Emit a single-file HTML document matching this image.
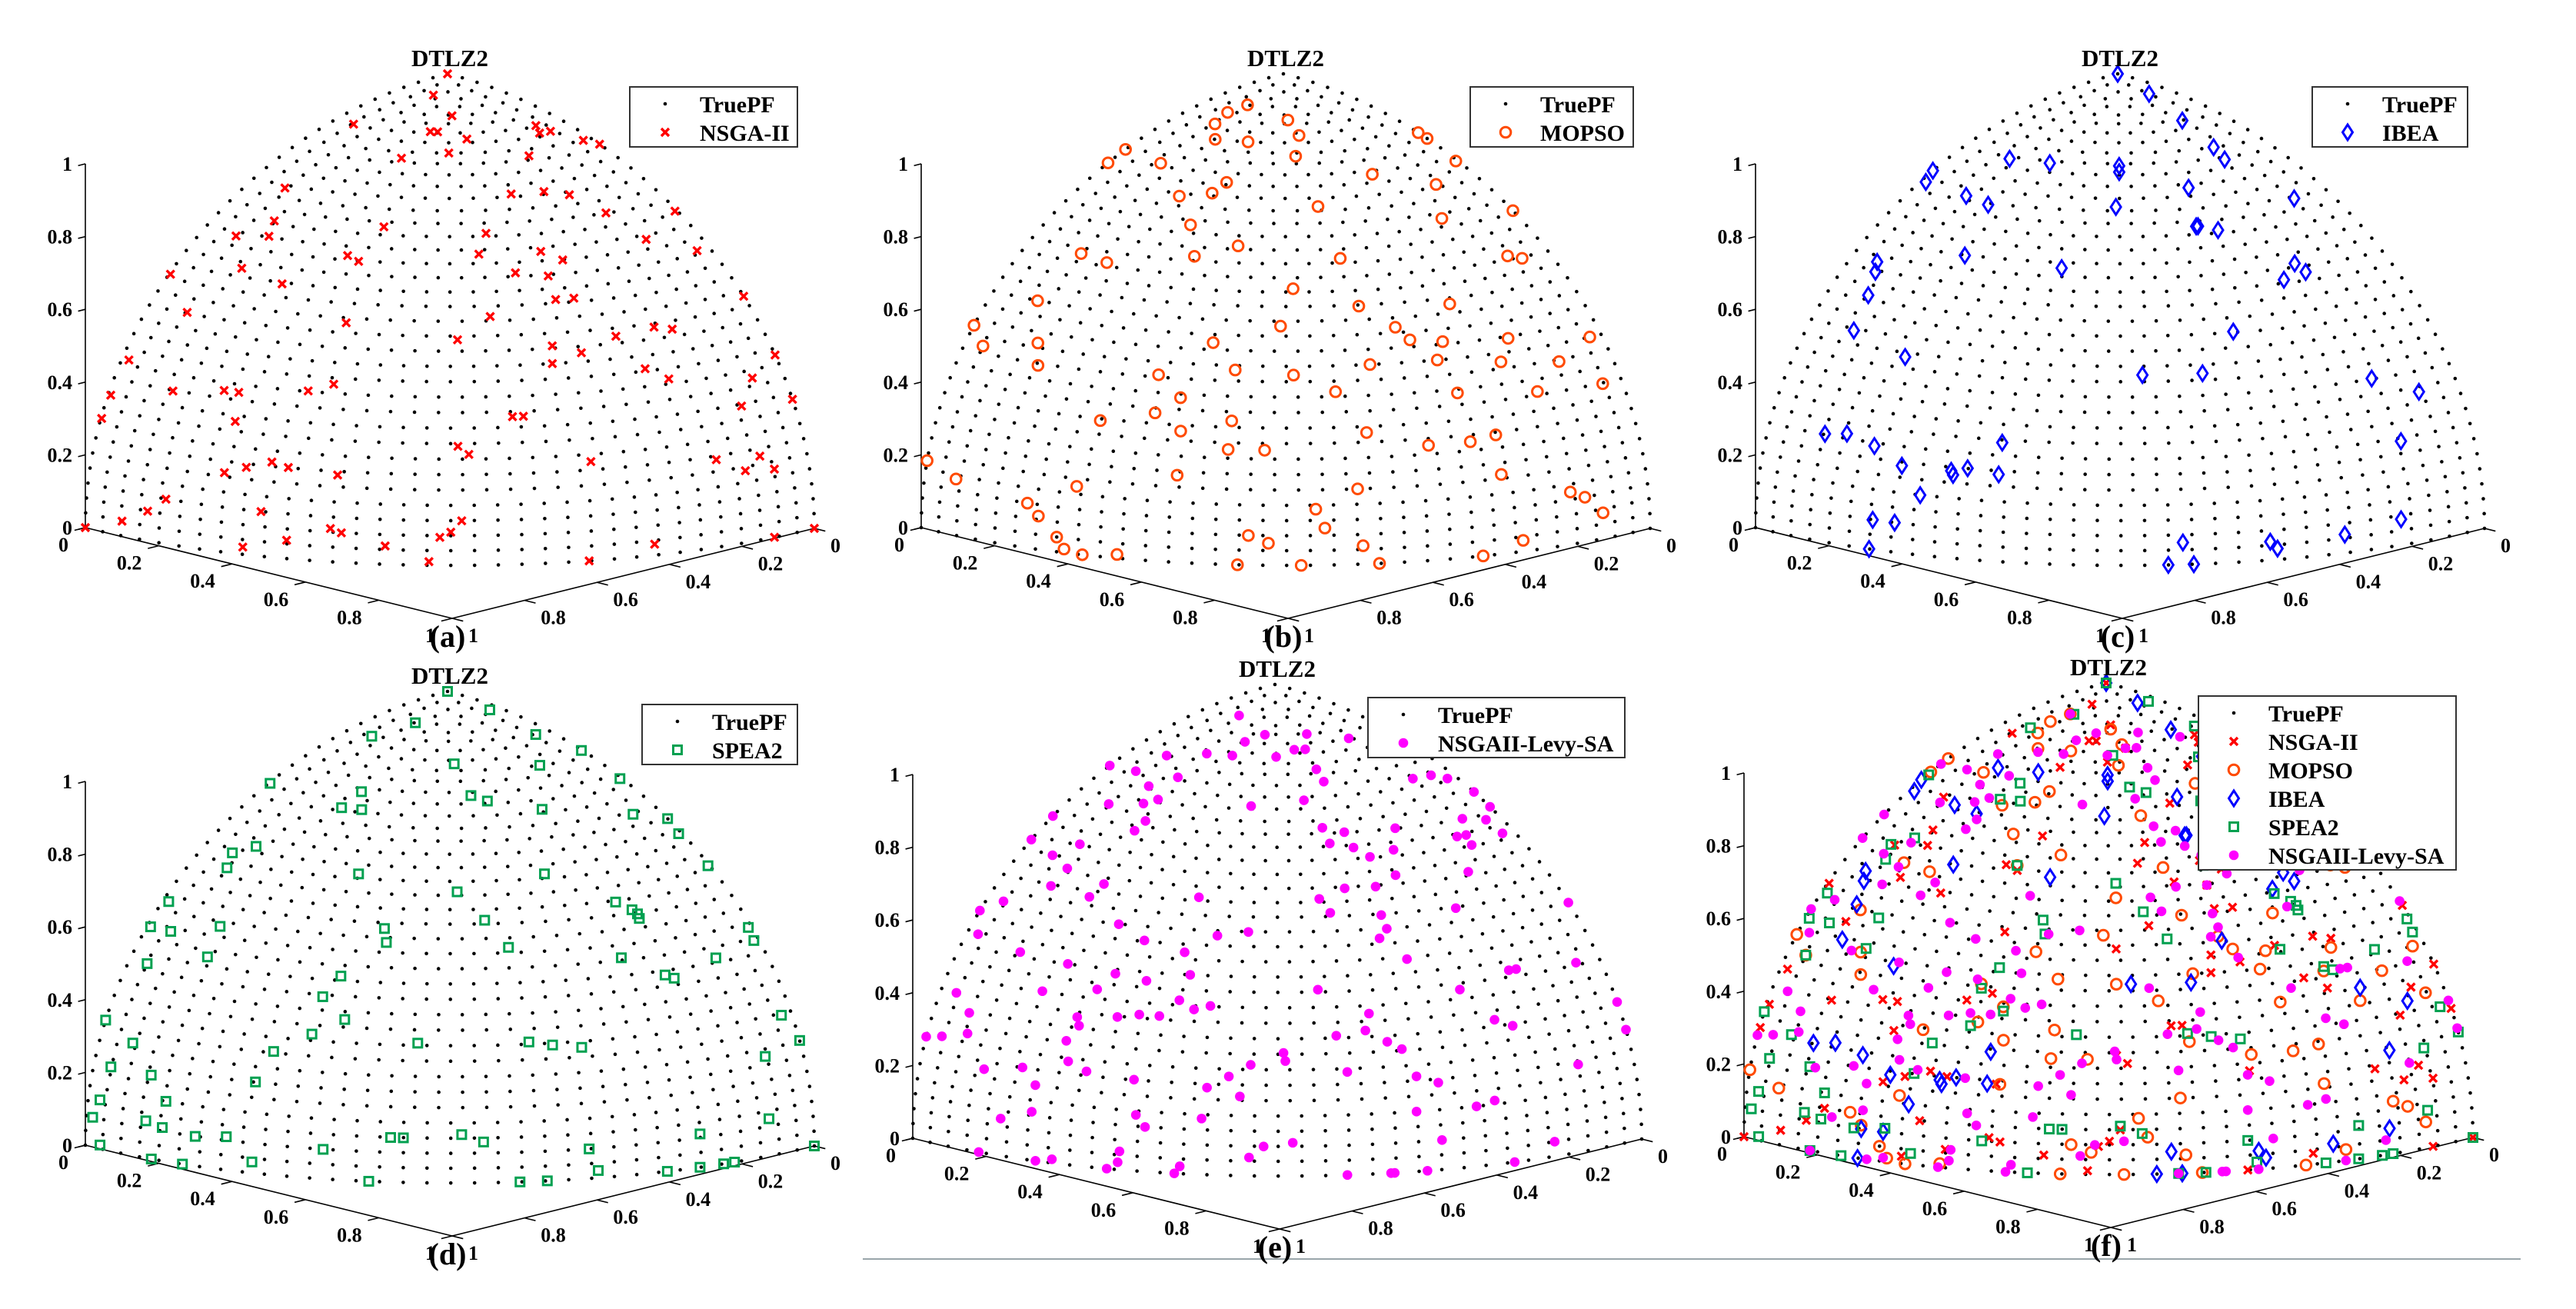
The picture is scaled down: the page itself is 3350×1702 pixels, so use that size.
<!DOCTYPE html>
<html><head><meta charset="utf-8"><title>DTLZ2 Pareto fronts</title>
<style>
html,body{margin:0;padding:0;background:#fff;}
svg{display:block;}
text{font-family:"Liberation Serif","DejaVu Serif",serif;font-weight:bold;fill:#000;}
</style></head>
<body>
<svg id="fig" xmlns="http://www.w3.org/2000/svg" width="3350" height="1702" viewBox="0 0 3350 1702">
<rect x="0" y="0" width="3350" height="1702" fill="#fff"/>
<line x1="1122" y1="1637" x2="3278" y2="1637" stroke="#9aa5aa" stroke-width="2"/>
</svg>
<script>
// ---- axis ticks ----
const zTickValues = [0, 0.2, 0.4, 0.6, 0.8, 1];
const zTickLabels = ['0', '0.2', '0.4', '0.6', '0.8', '1'];
const edgeTickValues = [0, 0.2, 0.4, 0.6, 0.8, 1];
const edgeTickLabels = ['0', '0.2', '0.4', '0.6', '0.8', '1'];
const panelLabels = ['(a)', '(b)', '(c)', '(d)', '(e)', '(f)'];
const panelTitles = ['DTLZ2', 'DTLZ2', 'DTLZ2', 'DTLZ2', 'DTLZ2', 'DTLZ2'];
const seriesNames = ['TruePF', 'NSGA-II', 'MOPSO', 'IBEA', 'SPEA2', 'NSGAII-Levy-SA'];

// ---- true PF (DTLZ2: unit sphere octant) sampling parameters ----
const truePfRings = 39;
const truePfArcStep = 0.046;

// ---- obtained solutions: [f2 - f1, f3] ----
const nsga2 = [[0.01,1.0],[-0.04,0.99],[0.01,0.97],[-0.26,0.95],[-0.05,0.95],[-0.03,0.95],[0.05,0.94],[0.24,0.95],[0.25,0.94],[0.28,0.94],[-0.13,0.91],[0,0.92],[0.22,0.91],[0.37,0.92],[0.42,0.91],[-0.45,0.84],[0.17,0.85],[0.26,0.85],[0.33,0.84],[0.43,0.80],[0.62,0.78],[-0.48,0.78],[-0.585,0.74],[-0.495,0.75],[-0.18,0.79],[0.10,0.78],[0.54,0.74],[0.25,0.74],[0.68,0.70],[0.08,0.74],[-0.28,0.73],[-0.25,0.72],[-0.57,0.68],[0.18,0.70],[0.27,0.69],[0.31,0.72],[-0.765,0.64],[-0.46,0.66],[0.34,0.64],[0.29,0.64],[0.81,0.59],[-0.72,0.57],[-0.285,0.59],[0.11,0.61],[0.56,0.56],[0.61,0.55],[0.455,0.55],[0.02,0.56],[0.28,0.54],[0.36,0.52],[0.28,0.50],[0.90,0.45],[-0.88,0.44],[0.535,0.47],[0.60,0.44],[0.83,0.41],[-0.76,0.39],[-0.62,0.41],[-0.58,0.41],[-0.39,0.43],[-0.32,0.45],[-0.93,0.35],[0.80,0.35],[0.95,0.34],[-0.955,0.29],[-0.59,0.34],[0.17,0.38],[0.20,0.38],[0.385,0.26],[0.02,0.31],[0.05,0.29],[-0.49,0.25],[-0.56,0.23],[-0.445,0.24],[-0.62,0.21],[0.73,0.23],[0.85,0.22],[0.81,0.19],[0.89,0.18],[-0.31,0.23],[-0.78,0.12],[-0.52,0.12],[-0.83,0.08],[-0.90,0.04],[-0.33,0.09],[-0.30,0.08],[0.03,0.12],[-0.45,0.05],[0,0.09],[-0.03,0.076],[-1.0,0],[-0.18,0.05],[-0.57,0.02],[1.0,0],[0.89,0],[0.56,0.03],[-0.06,0.01],[0.38,0]];
const mopso = [[-0.10,0.98],[-0.155,0.97],[-0.19,0.955],[0.01,0.965],[0.04,0.945],[-0.19,0.935],[-0.10,0.935],[-0.44,0.90],[0.03,0.915],[0.37,0.93],[0.395,0.92],[0.47,0.88],[-0.485,0.875],[-0.34,0.89],[0.24,0.88],[0.415,0.85],[-0.16,0.87],[-0.20,0.85],[-0.29,0.84],[0.43,0.79],[0.635,0.78],[0.09,0.83],[-0.26,0.79],[-0.56,0.71],[-0.49,0.70],[-0.25,0.73],[-0.13,0.755],[0.61,0.70],[0.65,0.69],[0.15,0.73],[-0.68,0.60],[0.02,0.67],[0.45,0.62],[0.20,0.63],[-0.87,0.52],[-0.83,0.48],[-0.68,0.51],[-0.68,0.46],[-0.015,0.59],[-0.20,0.55],[0.30,0.58],[0.34,0.55],[0.43,0.54],[0.61,0.53],[0.835,0.50],[0.23,0.50],[0.415,0.50],[0.59,0.48],[0.75,0.46],[-0.35,0.47],[-0.14,0.49],[0.02,0.48],[0.47,0.42],[0.69,0.40],[0.87,0.39],[-0.29,0.42],[0.135,0.44],[-0.36,0.38],[-0.51,0.35],[-0.29,0.34],[-0.15,0.37],[0.22,0.34],[0.39,0.30],[0.505,0.30],[0.575,0.31],[-0.16,0.30],[-0.06,0.30],[-0.30,0.23],[0.59,0.21],[-1.0,0.18],[-0.905,0.15],[-0.575,0.18],[0.195,0.20],[0.78,0.14],[0.82,0.12],[-0.71,0.12],[-0.68,0.09],[0.08,0.15],[0.87,0.07],[-0.63,0.04],[0.105,0.10],[-0.105,0.08],[0.65,0.03],[-0.05,0.06],[-0.61,0.01],[0.21,0.05],[-0.56,0],[-0.465,0.01],[-0.135,0],[0.04,0],[0.54,0],[0.255,0]];
const ibea = [[0,1.0],[0.085,0.99],[0.175,0.96],[0.26,0.92],[0.29,0.90],[-0.30,0.90],[-0.19,0.90],[-0.515,0.86],[-0.53,0.84],[-0.42,0.83],[-0.36,0.82],[0,0.90],[0,0.89],[-0.01,0.83],[0.19,0.86],[0.21,0.79],[0.215,0.79],[0.27,0.78],[0.48,0.82],[-0.425,0.72],[-0.16,0.71],[0.48,0.70],[0.51,0.68],[0.45,0.67],[-0.665,0.68],[-0.67,0.66],[-0.69,0.61],[-0.73,0.53],[-0.59,0.49],[0.31,0.57],[0.06,0.48],[0.225,0.48],[0.69,0.43],[0.82,0.38],[-0.81,0.28],[-0.75,0.29],[-0.675,0.27],[-0.60,0.23],[-0.465,0.23],[-0.46,0.22],[-0.42,0.24],[-0.325,0.31],[-0.335,0.23],[-0.55,0.16],[-0.68,0.08],[-0.62,0.08],[-0.69,0],[0.77,0.27],[0.77,0.07],[0.615,0.05],[0.41,0.05],[0.43,0.03],[0.17,0.06],[0.20,0],[0.13,0]];
const spea2 = [[-0.02,1.0],[0.115,0.99],[-0.09,0.98],[-0.21,0.96],[0.24,0.96],[0.365,0.93],[0.015,0.93],[0.25,0.92],[0.47,0.88],[-0.49,0.87],[-0.24,0.88],[0.06,0.88],[0.105,0.87],[-0.295,0.85],[-0.24,0.85],[0.255,0.85],[0.505,0.82],[0.61,0.80],[0.63,0.77],[-0.53,0.76],[-0.595,0.74],[-0.61,0.71],[0.71,0.70],[-0.25,0.73],[0.26,0.73],[0.02,0.70],[0.455,0.66],[0.50,0.64],[0.52,0.62],[0.515,0.63],[-0.77,0.62],[-0.82,0.56],[-0.765,0.56],[-0.63,0.59],[0.095,0.64],[-0.18,0.62],[-0.175,0.59],[-0.665,0.52],[0.16,0.58],[0.47,0.54],[0.73,0.51],[0.82,0.56],[0.835,0.53],[-0.83,0.48],[-0.30,0.51],[0.59,0.49],[0.615,0.48],[-0.35,0.46],[-0.29,0.41],[-0.945,0.33],[0.91,0.35],[-0.38,0.37],[-0.87,0.29],[-0.485,0.32],[-0.09,0.36],[0.215,0.36],[0.28,0.35],[0.36,0.34],[0.865,0.26],[0.965,0.28],[-0.93,0.22],[-0.82,0.22],[-0.535,0.24],[-0.78,0.16],[-0.96,0.13],[-0.98,0.08],[-0.835,0.10],[-0.79,0.09],[-0.70,0.08],[-0.615,0.09],[-0.165,0.12],[-0.13,0.12],[0.03,0.13],[0.09,0.11],[0.38,0.08],[0.685,0.09],[0.875,0.10],[-0.96,0.01],[-0.82,0],[-0.735,0],[-0.545,0.03],[-0.35,0.08],[-0.225,0],[0.19,0],[0.265,0],[0.405,0.02],[0.595,0],[0.685,0],[0.75,0],[0.78,0],[1.0,0]];
const levy = [[-0.10,0.98],[-0.03,0.96],[0.085,0.96],[-0.085,0.95],[0.20,0.95],[0.05,0.94],[0.08,0.94],[-0.19,0.93],[-0.12,0.93],[0,0.93],[-0.30,0.92],[0.11,0.91],[-0.46,0.89],[-0.385,0.89],[-0.27,0.89],[0.13,0.89],[0.375,0.88],[0.425,0.88],[0.47,0.87],[-0.35,0.87],[-0.365,0.84],[-0.325,0.85],[-0.46,0.83],[-0.07,0.85],[0.075,0.86],[0.555,0.84],[0.60,0.81],[0.51,0.80],[0.575,0.79],[-0.63,0.79],[-0.36,0.81],[0.62,0.76],[-0.39,0.79],[0.325,0.80],[0.125,0.81],[0.495,0.77],[0.52,0.77],[0.535,0.75],[-0.685,0.74],[-0.54,0.75],[0.185,0.80],[0.145,0.78],[-0.615,0.72],[0.21,0.77],[0.255,0.75],[0.32,0.76],[-0.575,0.70],[0.525,0.70],[-0.62,0.66],[-0.475,0.68],[0.325,0.71],[-0.515,0.65],[-0.215,0.67],[0.185,0.69],[0.27,0.69],[-0.75,0.61],[0.115,0.67],[0.49,0.63],[0.82,0.60],[0.145,0.64],[0.285,0.63],[-0.855,0.58],[-0.435,0.60],[-0.82,0.53],[0.30,0.60],[-0.365,0.57],[-0.165,0.59],[-0.08,0.60],[0.28,0.58],[-0.705,0.51],[-0.255,0.55],[-0.575,0.50],[0.355,0.53],[0.635,0.48],[0.655,0.48],[0.82,0.47],[-0.445,0.49],[-0.36,0.48],[-0.24,0.50],[-0.645,0.43],[-0.495,0.45],[0.50,0.45],[0.11,0.47],[-0.88,0.39],[-0.27,0.44],[-0.185,0.43],[-0.23,0.42],[-0.845,0.35],[-0.55,0.38],[-0.44,0.39],[-0.38,0.40],[-0.325,0.40],[0.97,0.36],[-0.545,0.36],[0.595,0.37],[0.645,0.35],[0.25,0.41],[-0.85,0.30],[-0.58,0.32],[0.16,0.36],[0.98,0.29],[0.24,0.37],[0.30,0.34],[-0.995,0.27],[-0.92,0.28],[0.34,0.32],[-0.70,0.24],[-0.575,0.27],[-0.525,0.25],[-0.805,0.22],[0.015,0.32],[0.02,0.30],[-0.665,0.20],[-0.395,0.24],[-0.075,0.29],[-0.135,0.26],[0.38,0.25],[0.44,0.23],[0.19,0.27],[0.825,0.23],[-0.195,0.23],[-0.105,0.21],[0.545,0.16],[0.595,0.17],[-0.675,0.13],[-0.76,0.10],[-0.39,0.15],[0.38,0.16],[-0.365,0.12],[-0.21,0.15],[0.45,0.08],[0.76,0.04],[-0.435,0.05],[-0.62,0.01],[-0.44,0.02],[-0.04,0.08],[0.04,0.09],[-0.08,0.05],[-0.82,0],[-0.665,0],[-0.27,0.02],[-0.47,0],[-0.285,0],[0.19,0],[0.32,0],[0.31,0],[0.41,0],[0.65,0]];

// ---- layout (not data) ----
const SVGNS = 'http://www.w3.org/2000/svg';
const svg = document.getElementById('fig');
const ORIGIN = {x: 582, y: 569};
const EX = {x: -471, y: 117};
const EY = {x: 477, y: 118};
const EZ = 473;
const panels = [
  {dx: 0, dy: 0, series: ['nsga2'], legendW: 218},
  {dx: 1087, dy: 0, series: ['mopso'], legendW: 212},
  {dx: 2172, dy: 0, series: ['ibea'], legendW: 202},
  {dx: 0, dy: 803, series: ['spea2'], legendW: 202},
  {dx: 1076, dy: 794, series: ['levy'], legendW: 334},
  {dx: 2157, dy: 792, series: ['nsga2', 'mopso', 'ibea', 'spea2', 'levy'], legendW: 335}
];
const seriesData = {nsga2: nsga2, mopso: mopso, ibea: ibea, spea2: spea2, levy: levy};
const seriesStyle = {
  truepf: {color: '#000', marker: 'dot', label: seriesNames[0]},
  nsga2: {color: '#ff0000', marker: 'x', label: seriesNames[1]},
  mopso: {color: '#ff4a00', marker: 'ring', label: seriesNames[2]},
  ibea: {color: '#0000ff', marker: 'diamond', label: seriesNames[3]},
  spea2: {color: '#00a050', marker: 'square', label: seriesNames[4]},
  levy: {color: '#ff00ff', marker: 'disc', label: seriesNames[5]}
};

function mk(tag, attrs, parent) {
  const el = document.createElementNS(SVGNS, tag);
  for (const k in attrs) el.setAttribute(k, attrs[k]);
  (parent || svg).appendChild(el);
  return el;
}
function project(p, f1, f2, f3) {
  return {
    x: p.dx + ORIGIN.x + f1 * EX.x + f2 * EY.x,
    y: p.dy + ORIGIN.y + f1 * EX.y + f2 * EY.y - f3 * EZ
  };
}
function toObjectives(diff, f3) {
  const z = Math.max(0, Math.min(1, f3));
  const r = Math.sqrt(Math.max(0, 1 - z * z));
  const d = Math.max(-r, Math.min(r, diff));
  const s = Math.sqrt(Math.max(0, 2 * r * r - d * d));
  return [(s - d) / 2, (s + d) / 2, z];
}
function truePfPoints() {
  const pts = [];
  for (let k = 0; k <= truePfRings; k++) {
    const lat = k * (Math.PI / 2) / truePfRings;
    const f3 = Math.sin(lat), r = Math.cos(lat);
    const n = Math.max(0, Math.round(r * (Math.PI / 2) / truePfArcStep));
    for (let j = 0; j <= n; j++) {
      const phi = n === 0 ? 0 : j * (Math.PI / 2) / n;
      pts.push([r * Math.cos(phi), r * Math.sin(phi), f3]);
    }
  }
  return pts;
}
function drawMarker(g, type, x, y, color) {
  let el;
  if (type === 'dot') {
    el = mk('circle', {cx: x, cy: y, r: 2.3, fill: color}, g);
  } else if (type === 'x') {
    el = mk('path', {d: `M${x-5} ${y-5}L${x+5} ${y+5}M${x-5} ${y+5}L${x+5} ${y-5}`, stroke: color, 'stroke-width': 3.4, fill: 'none'}, g);
  } else if (type === 'ring') {
    el = mk('circle', {cx: x, cy: y, r: 6.8, fill: 'none', stroke: color, 'stroke-width': 3}, g);
  } else if (type === 'diamond') {
    el = mk('path', {d: `M${x} ${y-10}L${x+6.5} ${y}L${x} ${y+10}L${x-6.5} ${y}Z`, fill: 'none', stroke: color, 'stroke-width': 3}, g);
  } else if (type === 'square') {
    el = mk('rect', {x: x - 5.5, y: y - 5.5, width: 11, height: 11, fill: 'none', stroke: color, 'stroke-width': 3}, g);
  } else {
    el = mk('circle', {cx: x, cy: y, r: 6.3, fill: color}, g);
  }
  return el;
}

const pfPoints = truePfPoints();

panels.forEach((p, pi) => {
  const g = mk('g', {});
  
  

  const z0 = project(p, 1, 0, 0), z1 = project(p, 1, 0, 1);
  const zl = mk('line', {x1: z0.x, y1: z0.y, x2: z1.x, y2: z1.y, stroke: '#000', 'stroke-width': 1.6}, g);
  
  
  zTickValues.forEach((v, i) => {
    const a = project(p, 1, 0, v), b = project(p, 1.02, 0, v);
    const t = mk('line', {x1: a.x, y1: a.y, x2: b.x, y2: b.y, stroke: '#000', 'stroke-width': 1.6}, g);
    
    
    const lab = mk('text', {x: a.x - 17, y: a.y + 9, 'font-size': 26, 'text-anchor': 'end'}, g);
    lab.textContent = zTickLabels[i];
    
    
  });
  const le0 = project(p, 1, 0, 0), le1 = project(p, 1, 1, 0);
  const ll = mk('line', {x1: le0.x, y1: le0.y, x2: le1.x, y2: le1.y, stroke: '#000', 'stroke-width': 1.6}, g);
  
  
  edgeTickValues.forEach((v, i) => {
    const a = project(p, 1, v, 0), b = project(p, 1.03, v, 0);
    const t = mk('line', {x1: a.x, y1: a.y, x2: b.x, y2: b.y, stroke: '#000', 'stroke-width': 1.6}, g);
    
    
    const lab = mk('text', {x: a.x - 22, y: a.y + 31, 'font-size': 26, 'text-anchor': 'end'}, g);
    lab.textContent = edgeTickLabels[i];
    
    
  });
  const re0 = project(p, 0, 1, 0), re1 = project(p, 1, 1, 0);
  const rl = mk('line', {x1: re0.x, y1: re0.y, x2: re1.x, y2: re1.y, stroke: '#000', 'stroke-width': 1.6}, g);
  
  
  edgeTickValues.forEach((v, i) => {
    const a = project(p, v, 1, 0), b = project(p, v, 1.03, 0);
    const t = mk('line', {x1: a.x, y1: a.y, x2: b.x, y2: b.y, stroke: '#000', 'stroke-width': 1.6}, g);
    
    
    const lab = mk('text', {x: a.x + 21, y: a.y + 31, 'font-size': 26, 'text-anchor': 'start'}, g);
    lab.textContent = edgeTickLabels[i];
    
    
  });

  const gpf = mk('g', {}, g);
  
  
  pfPoints.forEach(pt => {
    const s = project(p, pt[0], pt[1], pt[2]);
    const el = drawMarker(gpf, 'dot', s.x, s.y, '#000');
    
    
  });

  p.series.forEach(key => {
    const st = seriesStyle[key];
    const gs = mk('g', {}, g);
    
    
    seriesData[key].forEach(v => {
      const o = toObjectives(v[0], v[1]);
      const s = project(p, o[0], o[1], o[2]);
      const el = drawMarker(gs, st.marker, s.x, s.y, st.color);
      
      
    });
  });

  const apex = project(p, 0, 0, 1);
  const title = mk('text', {x: apex.x + 3, y: apex.y - 10, 'font-size': 31, 'text-anchor': 'middle'}, g);
  title.textContent = panelTitles[pi];
  
  

  const front = project(p, 1, 1, 0);
  const pl = mk('text', {x: front.x - 6, y: front.y + 37, 'font-size': 40, 'text-anchor': 'middle'}, g);
  pl.textContent = panelLabels[pi];
  
  

  const entries = ['truepf'].concat(p.series);
  const lx = p.dx + 1037 - p.legendW, ly = p.dy + 113;
  const lg = mk('g', {}, g);
  
  
  const box = mk('rect', {x: lx, y: ly, width: p.legendW, height: 37 * entries.length + 4, fill: '#fff', stroke: '#333', 'stroke-width': 2}, lg);
  
  
  entries.forEach((key, i) => {
    const st = seriesStyle[key];
    const cy = ly + 22 + 37 * i;
    const m = drawMarker(lg, st.marker, lx + 46, cy, st.color);
    
    
    const t = mk('text', {x: lx + 91, y: cy + 11, 'font-size': 30}, lg);
    t.textContent = st.label;
    
    
  });
});
</script>
</body></html>
